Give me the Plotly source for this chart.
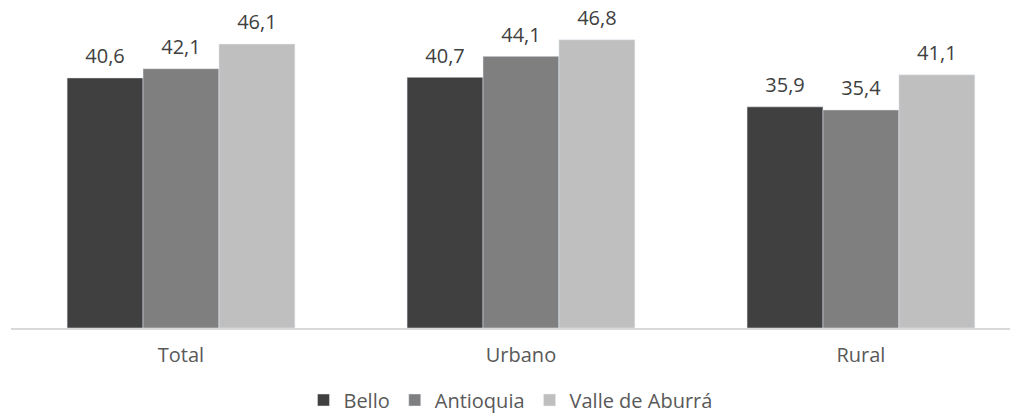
import plotly.graph_objects as go

categories = ["Total", "Urbano", "Rural"]
series = ["Bello", "Antioquia", "Valle de Aburrá"]
bello = [40.6, 40.7, 35.9]
antioquia = [42.1, 44.1, 35.4]
valle = [46.1, 46.8, 41.1]
colors = ["#404040", "#7f7f7f", "#bfbfbf"]


def fmt(v):
    # decimal comma, as in the original
    return f"{v:.1f}".replace(".", ",")


fig = go.Figure()
for name, vals, col in zip(series, [bello, antioquia, valle], colors):
    fig.add_trace(go.Bar(name=name, x=categories, y=vals, marker_color=col,
                         offsetgroup=name, alignmentgroup="a"))
for name, vals in zip(series, [bello, antioquia, valle]):
    fig.add_trace(go.Scatter(x=categories, y=vals, mode="markers+text",
                             text=[fmt(v) for v in vals], textposition="top center",
                             marker=dict(size=14, opacity=0),
                             textfont=dict(size=20, color="#404040"),
                             offsetgroup=name, alignmentgroup="a",
                             showlegend=False, hoverinfo="skip", cliponaxis=False))

# page body has an 8px margin, so margins are shifted to compensate
fig.update_layout(
    width=1018, height=417,
    margin=dict(l=3, r=8, t=0, b=97, autoexpand=False),
    plot_bgcolor="white", paper_bgcolor="white",
    barmode="group", scattermode="group", bargap=0.33, bargroupgap=0,
    font=dict(family="Open Sans", size=20, color="#595959"),
    legend=dict(orientation="h", x=0.496, xanchor="center", y=-0.225, yanchor="middle",
                font=dict(size=20, color="#595959"), itemwidth=30,
                traceorder="normal"),
    xaxis=dict(range=[-0.5, 2.462], showline=True, linecolor="#d9d9d9", linewidth=2,
               ticks="outside", ticklen=8, tickcolor="rgba(0,0,0,0)", showgrid=False,
               tickfont=dict(size=20, color="#595959")),
    yaxis=dict(range=[0, 51.95], visible=False, showgrid=False),
)
fig.write_html("out.html")
